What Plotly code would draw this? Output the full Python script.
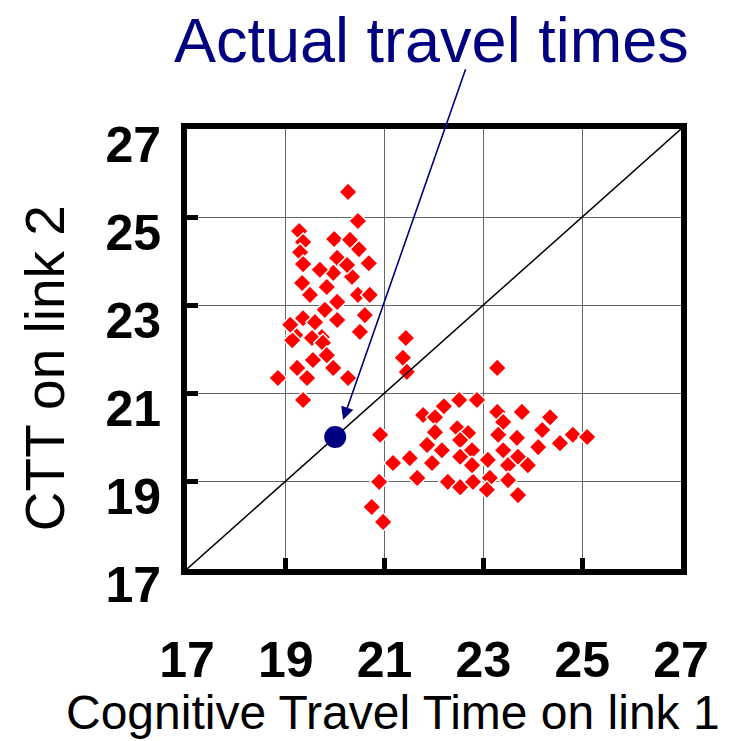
import plotly.graph_objects as go

# Perceived (cognitive) travel times: upper-left cluster
ctt1_a = [20.26, 20.46, 19.27, 19.98, 20.48, 19.35, 20.30, 19.29, 20.04, 20.68,
          19.35, 19.96, 20.34, 20.24, 19.33, 19.83, 19.49, 20.04, 20.46, 19.79,
          20.60, 20.04, 19.35, 19.59, 20.50, 19.19, 19.73, 19.13, 19.53, 19.75,
          19.55, 19.23, 19.96, 19.43, 18.84, 20.26, 19.35, 19.83, 19.09, 19.69,
          20.70, 21.43, 21.37, 21.45]
ctt2_a = [25.57, 24.91, 24.68, 24.50, 24.27, 24.43, 24.48, 24.20, 24.07, 23.95,
          23.93, 23.73, 23.64, 23.91, 23.50, 23.41, 23.23, 23.07, 23.23, 22.89,
          22.77, 22.66, 22.70, 22.61, 22.39, 22.32, 22.27, 22.20, 22.25, 22.14,
          21.75, 21.57, 21.57, 21.34, 21.34, 21.34, 20.84, 21.86, 22.55, 23.80,
          23.23, 22.25, 21.80, 21.48]

# lower-right cluster
ctt1_b = [20.91, 21.78, 22.02, 22.20, 22.51, 22.87, 23.28, 23.78, 24.35, 22.02,
          22.47, 22.69, 23.40, 23.30, 23.68, 24.19, 24.81, 25.10, 21.86, 22.16,
          22.53, 22.77, 23.40, 24.11, 24.55, 21.51, 21.17, 21.96, 22.53, 23.09,
          23.50, 23.70, 20.89, 21.66, 22.28, 22.53, 22.79, 23.13, 23.50, 23.07,
          23.70, 20.74, 20.97, 23.28, 22.77, 23.90]
ctt2_b = [20.05, 20.50, 20.45, 20.70, 20.84, 20.84, 20.57, 20.57, 20.45, 20.11,
          20.20, 20.09, 20.34, 20.05, 19.98, 20.16, 20.05, 20.00, 19.82, 19.70,
          19.93, 19.70, 19.70, 19.77, 19.86, 19.52, 19.41, 19.41, 19.55, 19.48,
          19.36, 19.55, 18.98, 19.07, 18.98, 18.86, 18.98, 19.07, 19.02, 18.80,
          18.68, 18.41, 18.07, 21.57, 19.36, 19.36]

actual_x = [20]
actual_y = [20]

diag = [17, 27]
tick_vals = [17, 19, 21, 23, 25, 27]
tick_text = ["17", "19", "21", "23", "25", "27"]

title_text = "Actual travel times"
x_title = "Cognitive Travel Time on link 1"
y_title = "CTT on link 2"

FONT = "Liberation Sans, Arial, sans-serif"
NAVY = "#000080"

fig = go.Figure()
fig.add_trace(go.Scatter(
    x=ctt1_a + ctt1_b, y=ctt2_a + ctt2_b, mode="markers",
    marker=dict(symbol="diamond", size=14, color="#ff0000",
                line=dict(color="white", width=1.5)),
    hoverinfo="skip", showlegend=False))
fig.add_trace(go.Scatter(
    x=diag, y=diag, mode="lines", line=dict(color="black", width=1.5),
    hoverinfo="skip", showlegend=False))
fig.add_trace(go.Scatter(
    x=actual_x, y=actual_y, mode="markers",
    marker=dict(symbol="circle", size=22, color=NAVY),
    showlegend=False))

axis_common = dict(
    range=[17, 27], tickvals=tick_vals, ticktext=tick_text,
    showgrid=True, gridcolor="#666666", gridwidth=1,
    zeroline=False, showline=True, linecolor="black", linewidth=6,
    mirror=True, ticks="inside", ticklen=11, tickwidth=5, tickcolor="black",
    tickfont=dict(family=FONT, size=50, color="black", weight="bold"),
    automargin=False,
)
fig.update_xaxes(**axis_common, ticklabelstandoff=42)
fig.update_yaxes(**axis_common, ticklabelstandoff=10, ticklabelshift=15)

fig.add_annotation(
    x=20.16, y=20.39, xref="x", yref="y", text="", showarrow=True,
    ax=123, ay=-352, arrowhead=2, arrowsize=1.6, arrowwidth=1.6,
    arrowcolor=NAVY)
fig.add_annotation(
    x=0.494, y=1.202, xref="paper", yref="paper", text=title_text,
    showarrow=False, font=dict(family=FONT, size=63, color=NAVY),
    xanchor="center", yanchor="middle")
fig.add_annotation(
    x=0.417, y=-0.325, xref="paper", yref="paper", text=x_title,
    showarrow=False, font=dict(family=FONT, size=48, color="black"),
    xanchor="center", yanchor="middle")
fig.add_annotation(
    x=-0.287, y=0.457, xref="paper", yref="paper", text=y_title,
    showarrow=False, textangle=-90,
    font=dict(family=FONT, size=55, color="black"),
    xanchor="center", yanchor="middle")

fig.update_layout(
    width=733, height=741,
    margin=dict(l=187, r=52, t=129, b=172),
    plot_bgcolor="white", paper_bgcolor="white",
    showlegend=False,
)

# remove the default 8px page margin so the figure fills the window exactly
fig.write_html(
    "out.html",
    config={"displayModeBar": False},
    post_script="document.body.style.margin='0';"
                "document.body.style.overflow='hidden';")
